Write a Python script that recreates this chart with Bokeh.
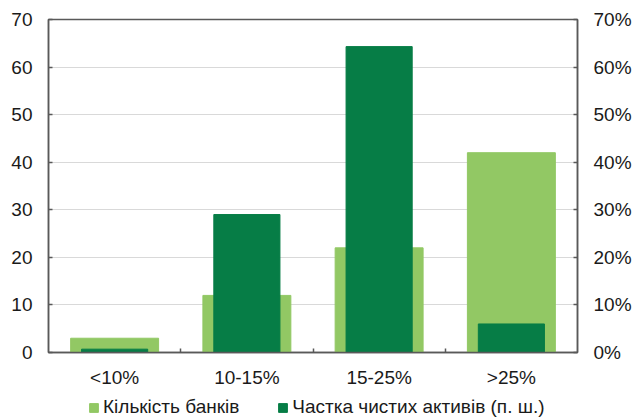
from bokeh.plotting import figure
from bokeh.layouts import column
from bokeh.models import (Range1d, LinearAxis, FixedTicker, Legend, LegendItem,
                          PrintfTickFormatter, ColumnDataSource)
from bokeh.embed import file_html
from bokeh.resources import INLINE

categories = ["<10%", "10-15%", "15-25%", ">25%"]
bank_count = [3, 12, 22, 42]
asset_share = [0.7, 29, 64.3, 6]
y_ticks = [0, 10, 20, 30, 40, 50, 60, 70]
legend_labels = ["Кількість банків", "Частка чистих активів (п. ш.)"]

FONT = "Liberation Sans"
LIGHT = "#92C864"
DARK = "#067D46"
AXIS = "#595959"
TXT = "#1a1a1a"

xs = [i + 0.5 for i in range(len(categories))]
src = ColumnDataSource(dict(x=xs, banks=bank_count, share=asset_share))

p = figure(width=636, height=392, output_backend="svg", toolbar_location=None,
           x_range=Range1d(0, len(categories)), y_range=Range1d(0, 70),
           min_border_left=48, min_border_right=59, min_border_top=19, min_border_bottom=40)
p.extra_y_ranges = {"pct": Range1d(0, 70)}

r1 = p.vbar(x="x", top="banks", width=0.665, color=LIGHT, source=src)
r2 = p.vbar(x="x", top="share", width=0.5, color=DARK, source=src, y_range_name="pct")

p.outline_line_color = AXIS
p.outline_line_width = 1.5
p.xgrid.visible = False
p.ygrid.ticker = FixedTicker(ticks=y_ticks)
p.ygrid.grid_line_color = "#d9d9d9"
p.ygrid.grid_line_width = 1

# x axis
xa = p.xaxis[0]
xa.ticker = FixedTicker(ticks=xs, minor_ticks=[1, 2, 3])
xa.major_label_overrides = {x: c for x, c in zip(xs, categories)}
xa.major_tick_in = 0
xa.major_tick_out = 0
xa.minor_tick_in = 4
xa.minor_tick_out = 0
xa.minor_tick_line_color = AXIS
xa.minor_tick_line_width = 1.5
xa.axis_line_color = AXIS
xa.axis_line_width = 1.5
xa.major_label_text_font = FONT
xa.major_label_text_font_size = "19px"
xa.major_label_text_color = TXT
xa.major_label_standoff = 14


def style_y(ax):
    ax.ticker = FixedTicker(ticks=y_ticks)
    ax.major_tick_in = 4
    ax.major_tick_out = 0
    ax.minor_tick_line_color = None
    ax.axis_line_color = AXIS
    ax.axis_line_width = 1.5
    ax.major_tick_line_color = AXIS
    ax.major_tick_line_width = 1.5
    ax.major_label_text_font = FONT
    ax.major_label_text_font_size = "19px"
    ax.major_label_text_color = TXT
    ax.major_label_standoff = 16


style_y(p.yaxis[0])
ra = LinearAxis(y_range_name="pct", formatter=PrintfTickFormatter(format="%d%%"))
style_y(ra)
p.add_layout(ra, "right")

# legend strip: same series, drawn outside its visible range so only the legend shows
p2 = figure(width=636, height=26, output_backend="svg", toolbar_location=None,
            x_range=Range1d(100, 101), y_range=Range1d(1000, 1001),
            x_axis_location=None, y_axis_location=None, min_border=0)
p2.grid.visible = False
p2.outline_line_color = None
l1 = p2.vbar(x="x", top="banks", width=0.665, color=LIGHT, source=src)
l2 = p2.vbar(x="x", top="share", width=0.5, color=DARK, source=src)

legend = Legend(items=[LegendItem(label=legend_labels[0], renderers=[l1]),
                       LegendItem(label=legend_labels[1], renderers=[l2])],
                orientation="horizontal", location=(40, 0),
                label_text_font=FONT, label_text_font_size="19px",
                label_text_color=TXT, glyph_width=11, glyph_height=11,
                spacing=38, padding=0, margin=0, border_line_color=None,
                background_fill_alpha=0, label_standoff=4, label_height=18)
p2.add_layout(legend, "center")

layout = column(p, p2, spacing=0)
open("out.html", "w").write(file_html(layout, INLINE))
